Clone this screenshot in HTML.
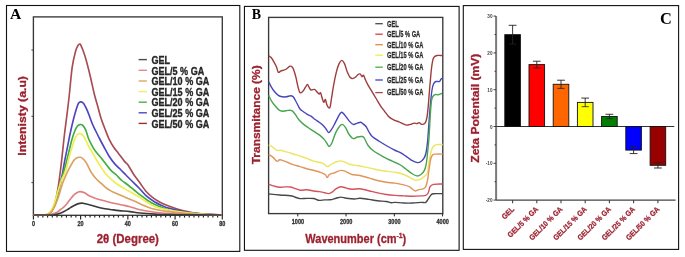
<!DOCTYPE html>
<html><head><meta charset="utf-8"><title>Figure</title>
<style>
html,body{margin:0;padding:0;background:#fff;width:685px;height:257px;overflow:hidden;font-family:"Liberation Sans",sans-serif;}
</style></head><body>
<svg xmlns="http://www.w3.org/2000/svg" width="685" height="257" viewBox="0 0 685 257" style="display:block;filter:blur(0.4px)">
<rect x="0" y="0" width="685" height="257" fill="#ffffff"/>
<rect x="6.50" y="5.50" width="233.30" height="245.90" fill="none" stroke="#111" stroke-width="1.10"/>
<rect x="244.45" y="6.40" width="214.65" height="243.90" fill="none" stroke="#111" stroke-width="1.10"/>
<rect x="463.30" y="5.60" width="215.30" height="243.80" fill="none" stroke="#111" stroke-width="1.10"/>
<text x="9.9" y="19.4" font-family='"Liberation Serif", serif' font-weight="bold" font-size="15.6" fill="#000">A</text>
<text x="251.7" y="19.3" textLength="9.3" lengthAdjust="spacingAndGlyphs" font-family='"Liberation Serif", serif' font-weight="bold" font-size="15.5" fill="#000">B</text>
<text x="659.9" y="23.7" font-family='"Liberation Serif", serif' font-weight="bold" font-size="16.4" fill="#000">C</text>
<rect x="33.40" y="16.90" width="188.90" height="198.40" fill="none" stroke="#383838" stroke-width="1.35"/>
<line x1="31.40" y1="50.00" x2="33.40" y2="50.00" stroke="#333" stroke-width="0.9"/>
<line x1="31.40" y1="116.30" x2="33.40" y2="116.30" stroke="#333" stroke-width="0.9"/>
<line x1="31.40" y1="182.60" x2="33.40" y2="182.60" stroke="#333" stroke-width="0.9"/>
<line x1="33.40" y1="215.30" x2="33.40" y2="219.60" stroke="#222" stroke-width="1.15"/>
<line x1="38.12" y1="215.30" x2="38.12" y2="217.60" stroke="#222" stroke-width="1.15"/>
<line x1="42.84" y1="215.30" x2="42.84" y2="217.60" stroke="#222" stroke-width="1.15"/>
<line x1="47.57" y1="215.30" x2="47.57" y2="217.60" stroke="#222" stroke-width="1.15"/>
<line x1="52.29" y1="215.30" x2="52.29" y2="217.60" stroke="#222" stroke-width="1.15"/>
<line x1="57.01" y1="215.30" x2="57.01" y2="217.60" stroke="#222" stroke-width="1.15"/>
<line x1="61.73" y1="215.30" x2="61.73" y2="217.60" stroke="#222" stroke-width="1.15"/>
<line x1="66.46" y1="215.30" x2="66.46" y2="217.60" stroke="#222" stroke-width="1.15"/>
<line x1="71.18" y1="215.30" x2="71.18" y2="217.60" stroke="#222" stroke-width="1.15"/>
<line x1="75.90" y1="215.30" x2="75.90" y2="217.60" stroke="#222" stroke-width="1.15"/>
<line x1="80.62" y1="215.30" x2="80.62" y2="219.60" stroke="#222" stroke-width="1.15"/>
<line x1="85.35" y1="215.30" x2="85.35" y2="217.60" stroke="#222" stroke-width="1.15"/>
<line x1="90.07" y1="215.30" x2="90.07" y2="217.60" stroke="#222" stroke-width="1.15"/>
<line x1="94.79" y1="215.30" x2="94.79" y2="217.60" stroke="#222" stroke-width="1.15"/>
<line x1="99.51" y1="215.30" x2="99.51" y2="217.60" stroke="#222" stroke-width="1.15"/>
<line x1="104.24" y1="215.30" x2="104.24" y2="217.60" stroke="#222" stroke-width="1.15"/>
<line x1="108.96" y1="215.30" x2="108.96" y2="217.60" stroke="#222" stroke-width="1.15"/>
<line x1="113.68" y1="215.30" x2="113.68" y2="217.60" stroke="#222" stroke-width="1.15"/>
<line x1="118.41" y1="215.30" x2="118.41" y2="217.60" stroke="#222" stroke-width="1.15"/>
<line x1="123.13" y1="215.30" x2="123.13" y2="217.60" stroke="#222" stroke-width="1.15"/>
<line x1="127.85" y1="215.30" x2="127.85" y2="219.60" stroke="#222" stroke-width="1.15"/>
<line x1="132.57" y1="215.30" x2="132.57" y2="217.60" stroke="#222" stroke-width="1.15"/>
<line x1="137.30" y1="215.30" x2="137.30" y2="217.60" stroke="#222" stroke-width="1.15"/>
<line x1="142.02" y1="215.30" x2="142.02" y2="217.60" stroke="#222" stroke-width="1.15"/>
<line x1="146.74" y1="215.30" x2="146.74" y2="217.60" stroke="#222" stroke-width="1.15"/>
<line x1="151.46" y1="215.30" x2="151.46" y2="217.60" stroke="#222" stroke-width="1.15"/>
<line x1="156.19" y1="215.30" x2="156.19" y2="217.60" stroke="#222" stroke-width="1.15"/>
<line x1="160.91" y1="215.30" x2="160.91" y2="217.60" stroke="#222" stroke-width="1.15"/>
<line x1="165.63" y1="215.30" x2="165.63" y2="217.60" stroke="#222" stroke-width="1.15"/>
<line x1="170.35" y1="215.30" x2="170.35" y2="217.60" stroke="#222" stroke-width="1.15"/>
<line x1="175.08" y1="215.30" x2="175.08" y2="219.60" stroke="#222" stroke-width="1.15"/>
<line x1="179.80" y1="215.30" x2="179.80" y2="217.60" stroke="#222" stroke-width="1.15"/>
<line x1="184.52" y1="215.30" x2="184.52" y2="217.60" stroke="#222" stroke-width="1.15"/>
<line x1="189.24" y1="215.30" x2="189.24" y2="217.60" stroke="#222" stroke-width="1.15"/>
<line x1="193.97" y1="215.30" x2="193.97" y2="217.60" stroke="#222" stroke-width="1.15"/>
<line x1="198.69" y1="215.30" x2="198.69" y2="217.60" stroke="#222" stroke-width="1.15"/>
<line x1="203.41" y1="215.30" x2="203.41" y2="217.60" stroke="#222" stroke-width="1.15"/>
<line x1="208.13" y1="215.30" x2="208.13" y2="217.60" stroke="#222" stroke-width="1.15"/>
<line x1="212.85" y1="215.30" x2="212.85" y2="217.60" stroke="#222" stroke-width="1.15"/>
<line x1="217.58" y1="215.30" x2="217.58" y2="217.60" stroke="#222" stroke-width="1.15"/>
<line x1="222.30" y1="215.30" x2="222.30" y2="219.60" stroke="#222" stroke-width="1.15"/>
<text transform="translate(33.40,226.20) scale(0.8300,1)" x="0" y="0" text-anchor="middle" font-family='"Liberation Sans", sans-serif' font-weight="bold" font-size="6.60" fill="#333" stroke="#333" stroke-width="0.3">0</text>
<text transform="translate(80.62,226.20) scale(0.8300,1)" x="0" y="0" text-anchor="middle" font-family='"Liberation Sans", sans-serif' font-weight="bold" font-size="6.60" fill="#333" stroke="#333" stroke-width="0.3">20</text>
<text transform="translate(127.85,226.20) scale(0.8300,1)" x="0" y="0" text-anchor="middle" font-family='"Liberation Sans", sans-serif' font-weight="bold" font-size="6.60" fill="#333" stroke="#333" stroke-width="0.3">40</text>
<text transform="translate(175.08,226.20) scale(0.8300,1)" x="0" y="0" text-anchor="middle" font-family='"Liberation Sans", sans-serif' font-weight="bold" font-size="6.60" fill="#333" stroke="#333" stroke-width="0.3">60</text>
<text transform="translate(222.30,226.20) scale(0.8300,1)" x="0" y="0" text-anchor="middle" font-family='"Liberation Sans", sans-serif' font-weight="bold" font-size="6.60" fill="#333" stroke="#333" stroke-width="0.3">80</text>
<path d="M33.30,215.00 C35.08,215.00 41.55,215.13 44.00,215.00 C46.45,214.87 46.87,214.65 48.00,214.20 C49.13,213.75 49.75,213.78 50.80,212.30 C51.85,210.82 53.13,209.10 54.30,205.30 C55.47,201.50 56.68,196.05 57.80,189.50 C58.92,182.95 59.90,175.08 61.00,166.00 C62.10,156.92 63.38,143.72 64.40,135.00 C65.42,126.28 66.28,120.37 67.10,113.70 C67.92,107.03 68.45,102.75 69.30,95.00 C70.15,87.25 71.17,74.45 72.20,67.20 C73.23,59.95 74.60,55.00 75.50,51.50 C76.40,48.00 76.98,47.40 77.60,46.20 C78.22,45.00 78.67,44.47 79.20,44.30 C79.73,44.13 79.87,43.32 80.80,45.20 C81.73,47.08 83.33,50.88 84.80,55.60 C86.27,60.32 88.02,67.10 89.60,73.50 C91.18,79.90 92.98,88.67 94.30,94.00 C95.62,99.33 96.38,101.45 97.50,105.50 C98.62,109.55 99.83,114.60 101.00,118.30 C102.17,122.00 103.13,124.18 104.50,127.70 C105.87,131.22 107.63,136.10 109.20,139.40 C110.77,142.70 112.35,145.17 113.90,147.50 C115.45,149.83 116.73,151.08 118.50,153.40 C120.27,155.72 123.03,159.62 124.50,161.40 C125.97,163.18 126.38,162.97 127.30,164.10 C128.22,165.23 128.87,166.38 130.00,168.20 C131.13,170.02 132.52,172.65 134.10,175.00 C135.68,177.35 137.53,179.60 139.50,182.30 C141.47,185.00 143.73,188.70 145.90,191.20 C148.07,193.70 150.15,195.47 152.50,197.30 C154.85,199.13 157.42,200.78 160.00,202.20 C162.58,203.62 164.38,204.43 168.00,205.80 C171.62,207.17 177.15,209.17 181.70,210.40 C186.25,211.63 190.75,212.55 195.30,213.20 C199.85,213.85 204.63,214.00 209.00,214.30 C213.37,214.60 219.42,214.88 221.50,215.00" fill="none" stroke="#a84c54" stroke-width="1.65" stroke-linejoin="round"/>
<path d="M33.30,215.00 C35.25,215.00 42.47,215.17 45.00,215.00 C47.53,214.83 47.33,214.75 48.50,214.00 C49.67,213.25 50.83,212.50 52.00,210.50 C53.17,208.50 54.37,205.42 55.50,202.00 C56.63,198.58 57.68,194.50 58.80,190.00 C59.92,185.50 61.25,179.68 62.20,175.00 C63.15,170.32 63.60,166.67 64.50,161.90 C65.40,157.13 66.57,151.55 67.60,146.40 C68.63,141.25 69.67,135.73 70.70,131.00 C71.73,126.27 72.83,121.77 73.80,118.00 C74.77,114.23 75.72,110.85 76.50,108.40 C77.28,105.95 77.78,104.38 78.50,103.30 C79.22,102.22 80.05,101.98 80.80,101.90 C81.55,101.82 82.43,102.40 83.00,102.80 C83.57,103.20 83.55,103.17 84.20,104.30 C84.85,105.43 86.00,107.57 86.90,109.60 C87.80,111.63 88.65,114.02 89.60,116.50 C90.55,118.98 91.53,122.00 92.60,124.50 C93.67,127.00 94.77,129.00 96.00,131.50 C97.23,134.00 98.67,136.92 100.00,139.50 C101.33,142.08 102.40,144.08 104.00,147.00 C105.60,149.92 107.77,154.15 109.60,157.00 C111.43,159.85 113.18,162.02 115.00,164.10 C116.82,166.18 118.68,167.68 120.50,169.50 C122.32,171.32 124.08,173.17 125.90,175.00 C127.72,176.83 129.22,178.33 131.40,180.50 C133.58,182.67 136.57,185.48 139.00,188.00 C141.43,190.52 143.37,193.27 146.00,195.60 C148.63,197.93 152.13,200.33 154.80,202.00 C157.47,203.67 159.53,204.53 162.00,205.60 C164.47,206.67 165.42,207.27 169.60,208.40 C173.78,209.53 180.53,211.42 187.10,212.40 C193.67,213.38 203.27,213.87 209.00,214.30 C214.73,214.73 219.42,214.88 221.50,215.00" fill="none" stroke="#4c46c0" stroke-width="1.65" stroke-linejoin="round"/>
<path d="M33.30,215.00 C35.25,215.00 42.47,215.17 45.00,215.00 C47.53,214.83 47.33,214.75 48.50,214.00 C49.67,213.25 50.83,212.50 52.00,210.50 C53.17,208.50 54.38,205.42 55.50,202.00 C56.62,198.58 57.62,194.17 58.70,190.00 C59.78,185.83 60.85,181.17 62.00,177.00 C63.15,172.83 64.48,169.07 65.60,165.00 C66.72,160.93 67.67,156.75 68.70,152.60 C69.73,148.45 70.77,143.73 71.80,140.10 C72.83,136.47 73.95,133.15 74.90,130.80 C75.85,128.45 76.62,127.05 77.50,126.00 C78.38,124.95 79.32,124.62 80.20,124.50 C81.08,124.38 81.85,124.33 82.80,125.30 C83.75,126.27 84.95,128.10 85.90,130.30 C86.85,132.50 87.48,135.95 88.50,138.50 C89.52,141.05 90.83,143.47 92.00,145.60 C93.17,147.73 94.03,149.32 95.50,151.30 C96.97,153.28 99.17,155.52 100.80,157.50 C102.43,159.48 103.62,161.05 105.30,163.20 C106.98,165.35 109.05,168.43 110.90,170.40 C112.75,172.37 114.58,173.32 116.40,175.00 C118.22,176.68 119.98,178.92 121.80,180.50 C123.62,182.08 125.25,182.92 127.30,184.50 C129.35,186.08 131.90,188.22 134.10,190.00 C136.30,191.78 138.28,193.50 140.50,195.20 C142.72,196.90 145.02,198.63 147.40,200.20 C149.78,201.77 151.10,202.93 154.80,204.60 C158.50,206.27 165.12,208.97 169.60,210.20 C174.08,211.43 175.80,211.33 181.70,212.00 C187.60,212.67 198.37,213.70 205.00,214.20 C211.63,214.70 218.75,214.87 221.50,215.00" fill="none" stroke="#3fae3f" stroke-width="1.65" stroke-linejoin="round"/>
<path d="M33.30,215.00 C35.08,215.00 41.63,215.17 44.00,215.00 C46.37,214.83 46.33,214.67 47.50,214.00 C48.67,213.33 49.83,212.83 51.00,211.00 C52.17,209.17 53.33,206.33 54.50,203.00 C55.67,199.67 56.83,194.83 58.00,191.00 C59.17,187.17 60.23,183.28 61.50,180.00 C62.77,176.72 64.40,174.83 65.60,171.30 C66.80,167.77 67.67,162.70 68.70,158.80 C69.73,154.90 70.77,151.27 71.80,147.90 C72.83,144.53 73.95,140.83 74.90,138.60 C75.85,136.37 76.62,135.33 77.50,134.50 C78.38,133.67 79.20,133.37 80.20,133.60 C81.20,133.83 82.57,134.75 83.50,135.90 C84.43,137.05 84.83,138.57 85.80,140.50 C86.77,142.43 88.13,145.35 89.30,147.50 C90.47,149.65 91.68,151.48 92.80,153.40 C93.92,155.32 94.80,156.98 96.00,159.00 C97.20,161.02 98.42,163.07 100.00,165.50 C101.58,167.93 103.68,171.33 105.50,173.60 C107.32,175.87 108.87,177.28 110.90,179.10 C112.93,180.92 115.43,182.92 117.70,184.50 C119.97,186.08 122.00,187.13 124.50,188.60 C127.00,190.07 129.97,191.73 132.70,193.30 C135.43,194.87 138.52,196.47 140.90,198.00 C143.28,199.53 144.68,201.10 147.00,202.50 C149.32,203.90 152.20,205.35 154.80,206.40 C157.40,207.45 157.57,207.77 162.60,208.80 C167.63,209.83 177.93,211.68 185.00,212.60 C192.07,213.52 198.92,213.90 205.00,214.30 C211.08,214.70 218.75,214.88 221.50,215.00" fill="none" stroke="#eeee50" stroke-width="1.65" stroke-linejoin="round"/>
<path d="M33.30,215.00 C35.25,215.00 42.55,215.08 45.00,215.00 C47.45,214.92 46.95,215.00 48.00,214.50 C49.05,214.00 50.12,213.48 51.30,212.00 C52.48,210.52 53.83,208.35 55.10,205.60 C56.37,202.85 57.63,199.28 58.90,195.50 C60.17,191.72 61.43,186.48 62.70,182.90 C63.97,179.32 65.23,176.75 66.50,174.00 C67.77,171.25 69.03,168.72 70.30,166.40 C71.57,164.08 72.83,161.58 74.10,160.10 C75.37,158.62 76.88,157.97 77.90,157.50 C78.92,157.03 79.43,157.17 80.20,157.30 C80.97,157.43 81.57,157.53 82.50,158.30 C83.43,159.07 84.88,160.62 85.80,161.90 C86.72,163.18 87.13,164.32 88.00,166.00 C88.87,167.68 89.68,169.92 91.00,172.00 C92.32,174.08 94.40,176.78 95.90,178.50 C97.40,180.22 98.40,180.83 100.00,182.30 C101.60,183.77 103.68,185.87 105.50,187.30 C107.32,188.73 109.55,190.08 110.90,190.90 C112.25,191.72 111.78,191.38 113.60,192.20 C115.42,193.02 119.40,194.77 121.80,195.80 C124.20,196.83 125.73,197.43 128.00,198.40 C130.27,199.37 133.40,200.70 135.40,201.60 C137.40,202.50 138.07,202.93 140.00,203.80 C141.93,204.67 144.53,205.88 147.00,206.80 C149.47,207.72 151.30,208.50 154.80,209.30 C158.30,210.10 162.13,210.85 168.00,211.60 C173.87,212.35 181.08,213.23 190.00,213.80 C198.92,214.37 216.25,214.80 221.50,215.00" fill="none" stroke="#dca060" stroke-width="1.65" stroke-linejoin="round"/>
<path d="M33.30,215.00 C35.58,215.00 43.88,215.17 47.00,215.00 C50.12,214.83 50.23,214.50 52.00,214.00 C53.77,213.50 56.17,212.75 57.60,212.00 C59.03,211.25 59.53,210.35 60.60,209.50 C61.67,208.65 62.93,207.90 64.00,206.90 C65.07,205.90 66.00,204.72 67.00,203.50 C68.00,202.28 68.80,201.07 70.00,199.60 C71.20,198.13 72.80,195.98 74.20,194.70 C75.60,193.42 77.12,192.37 78.40,191.90 C79.68,191.43 80.73,191.67 81.90,191.90 C83.07,192.13 84.12,192.60 85.40,193.30 C86.68,194.00 87.97,195.28 89.60,196.10 C91.23,196.92 93.10,197.50 95.20,198.20 C97.30,198.90 99.85,199.63 102.20,200.30 C104.55,200.97 106.95,201.62 109.30,202.20 C111.65,202.78 113.97,203.30 116.30,203.80 C118.63,204.30 121.02,204.70 123.30,205.20 C125.58,205.70 127.22,206.03 130.00,206.80 C132.78,207.57 135.87,208.88 140.00,209.80 C144.13,210.72 149.80,211.65 154.80,212.30 C159.80,212.95 164.13,213.33 170.00,213.70 C175.87,214.07 181.42,214.28 190.00,214.50 C198.58,214.72 216.25,214.92 221.50,215.00" fill="none" stroke="#e07f80" stroke-width="1.65" stroke-linejoin="round"/>
<path d="M33.30,215.00 C36.08,215.00 46.38,215.07 50.00,215.00 C53.62,214.93 53.30,214.90 55.00,214.60 C56.70,214.30 58.70,213.70 60.20,213.20 C61.70,212.70 62.73,212.23 64.00,211.60 C65.27,210.97 66.72,210.07 67.80,209.40 C68.88,208.73 69.43,208.27 70.50,207.60 C71.57,206.93 72.88,206.07 74.20,205.40 C75.52,204.73 77.12,203.98 78.40,203.60 C79.68,203.22 80.73,203.07 81.90,203.10 C83.07,203.13 83.88,203.45 85.40,203.80 C86.92,204.15 88.90,204.62 91.00,205.20 C93.10,205.78 95.67,206.72 98.00,207.30 C100.33,207.88 102.67,208.30 105.00,208.70 C107.33,209.10 109.67,209.38 112.00,209.70 C114.33,210.02 116.00,210.28 119.00,210.60 C122.00,210.92 126.50,211.20 130.00,211.60 C133.50,212.00 135.83,212.58 140.00,213.00 C144.17,213.42 150.00,213.83 155.00,214.10 C160.00,214.37 158.92,214.45 170.00,214.60 C181.08,214.75 212.92,214.93 221.50,215.00" fill="none" stroke="#3a3a3a" stroke-width="1.65" stroke-linejoin="round"/>
<line x1="138.6" y1="59.60" x2="146.9" y2="59.60" stroke="#4a4a4a" stroke-width="1.4"/>
<text transform="translate(151.50,63.80) scale(0.8153,1)" x="0" y="0" text-anchor="start" font-family='"Liberation Sans", sans-serif' font-weight="bold" font-size="11.10" fill="#262626" stroke="#262626" stroke-width="0.35">GEL</text>
<line x1="138.6" y1="70.30" x2="146.9" y2="70.30" stroke="#e48a8c" stroke-width="1.4"/>
<text transform="translate(151.50,74.50) scale(0.8153,1)" x="0" y="0" text-anchor="start" font-family='"Liberation Sans", sans-serif' font-weight="bold" font-size="11.10" fill="#262626" stroke="#262626" stroke-width="0.35">GEL/5 % GA</text>
<line x1="138.6" y1="81.00" x2="146.9" y2="81.00" stroke="#d9a866" stroke-width="1.4"/>
<text transform="translate(151.50,85.20) scale(0.8153,1)" x="0" y="0" text-anchor="start" font-family='"Liberation Sans", sans-serif' font-weight="bold" font-size="11.10" fill="#262626" stroke="#262626" stroke-width="0.35">GEL/10 % GA</text>
<line x1="138.6" y1="91.60" x2="146.9" y2="91.60" stroke="#f2f060" stroke-width="1.4"/>
<text transform="translate(151.50,95.80) scale(0.8153,1)" x="0" y="0" text-anchor="start" font-family='"Liberation Sans", sans-serif' font-weight="bold" font-size="11.10" fill="#262626" stroke="#262626" stroke-width="0.35">GEL/15 % GA</text>
<line x1="138.6" y1="102.20" x2="146.9" y2="102.20" stroke="#4cb04c" stroke-width="1.4"/>
<text transform="translate(151.50,106.40) scale(0.8153,1)" x="0" y="0" text-anchor="start" font-family='"Liberation Sans", sans-serif' font-weight="bold" font-size="11.10" fill="#262626" stroke="#262626" stroke-width="0.35">GEL/20 % GA</text>
<line x1="138.6" y1="112.80" x2="146.9" y2="112.80" stroke="#4a4ac2" stroke-width="1.4"/>
<text transform="translate(151.50,117.00) scale(0.8153,1)" x="0" y="0" text-anchor="start" font-family='"Liberation Sans", sans-serif' font-weight="bold" font-size="11.10" fill="#262626" stroke="#262626" stroke-width="0.35">GEL/25 % GA</text>
<line x1="138.6" y1="123.40" x2="146.9" y2="123.40" stroke="#a02c30" stroke-width="1.4"/>
<text transform="translate(151.50,127.60) scale(0.8153,1)" x="0" y="0" text-anchor="start" font-family='"Liberation Sans", sans-serif' font-weight="bold" font-size="11.10" fill="#262626" stroke="#262626" stroke-width="0.35">GEL/50 % GA</text>
<text transform="translate(127.85,242.90) scale(0.9387,1)" x="0" y="0" text-anchor="middle" font-family='"Liberation Sans", sans-serif' font-weight="bold" font-size="12.20" fill="#9c2230" stroke="#9c2230" stroke-width="0.3">2θ (Degree)</text>
<text transform="translate(26.4,115.85) rotate(-90)" x="0" y="0" text-anchor="middle" font-family='"Liberation Sans", sans-serif' font-weight="bold" font-size="10.9" fill="#9c2230" stroke="#9c2230" stroke-width="0.3" textLength="79.6" lengthAdjust="spacingAndGlyphs">Intenisty (a.u)</text>
<rect x="268.60" y="17.40" width="174.20" height="196.20" fill="none" stroke="#383838" stroke-width="1.35"/>
<line x1="297.80" y1="213.60" x2="297.80" y2="216.40" stroke="#222" stroke-width="1"/>
<text transform="translate(297.90,223.90) scale(0.8400,1)" x="0" y="0" text-anchor="middle" font-family='"Liberation Sans", sans-serif' font-weight="bold" font-size="6.60" fill="#333" stroke="#333" stroke-width="0.3">1000</text>
<line x1="346.06" y1="213.60" x2="346.06" y2="216.40" stroke="#222" stroke-width="1"/>
<text transform="translate(346.16,223.90) scale(0.8400,1)" x="0" y="0" text-anchor="middle" font-family='"Liberation Sans", sans-serif' font-weight="bold" font-size="6.60" fill="#333" stroke="#333" stroke-width="0.3">2000</text>
<line x1="394.32" y1="213.60" x2="394.32" y2="216.40" stroke="#222" stroke-width="1"/>
<text transform="translate(394.42,223.90) scale(0.8400,1)" x="0" y="0" text-anchor="middle" font-family='"Liberation Sans", sans-serif' font-weight="bold" font-size="6.60" fill="#333" stroke="#333" stroke-width="0.3">3000</text>
<line x1="442.58" y1="213.60" x2="442.58" y2="216.40" stroke="#222" stroke-width="1"/>
<text transform="translate(442.68,223.90) scale(0.8400,1)" x="0" y="0" text-anchor="middle" font-family='"Liberation Sans", sans-serif' font-weight="bold" font-size="6.60" fill="#333" stroke="#333" stroke-width="0.3">4000</text>
<path d="M268.70,55.90 C269.07,56.13 270.08,56.40 270.90,57.30 C271.72,58.20 272.68,59.72 273.60,61.30 C274.52,62.88 275.62,64.98 276.40,66.80 C277.18,68.62 277.53,71.52 278.30,72.20 C279.07,72.88 280.10,71.25 281.00,70.90 C281.90,70.55 282.80,70.42 283.70,70.10 C284.60,69.78 285.35,69.65 286.40,69.00 C287.45,68.35 289.00,66.48 290.00,66.20 C291.00,65.92 291.72,66.52 292.40,67.30 C293.08,68.08 293.50,69.17 294.10,70.90 C294.70,72.63 295.33,74.98 296.00,77.70 C296.67,80.42 297.43,84.70 298.10,87.20 C298.77,89.70 299.22,92.02 300.00,92.70 C300.78,93.38 301.88,92.22 302.80,91.30 C303.72,90.38 304.73,88.33 305.50,87.20 C306.27,86.07 306.82,84.50 307.40,84.50 C307.98,84.50 308.40,86.28 309.00,87.20 C309.60,88.12 310.08,89.63 311.00,90.00 C311.92,90.37 313.60,89.18 314.50,89.40 C315.40,89.62 315.63,90.53 316.40,91.30 C317.17,92.07 318.42,93.77 319.10,94.00 C319.78,94.23 320.05,92.23 320.50,92.70 C320.95,93.17 321.27,95.22 321.80,96.80 C322.33,98.38 323.10,101.75 323.70,102.20 C324.30,102.65 324.93,99.27 325.40,99.50 C325.87,99.73 326.05,102.33 326.50,103.60 C326.95,104.87 327.52,106.50 328.10,107.10 C328.68,107.70 329.45,108.55 330.00,107.20 C330.55,105.85 330.80,102.63 331.40,99.00 C332.00,95.37 332.77,89.93 333.60,85.40 C334.43,80.87 335.48,75.43 336.40,71.80 C337.32,68.17 338.20,65.50 339.10,63.60 C340.00,61.70 340.90,60.40 341.80,60.40 C342.70,60.40 343.60,61.70 344.50,63.60 C345.40,65.50 346.28,69.53 347.20,71.80 C348.12,74.07 349.08,76.07 350.00,77.20 C350.92,78.33 351.80,78.60 352.70,78.60 C353.60,78.60 354.50,77.88 355.40,77.20 C356.30,76.52 357.28,75.03 358.10,74.50 C358.92,73.97 359.65,73.63 360.30,74.00 C360.95,74.37 361.45,76.48 362.00,76.70 C362.55,76.92 363.02,74.75 363.60,75.30 C364.18,75.85 364.73,78.32 365.50,80.00 C366.27,81.68 367.07,83.37 368.20,85.40 C369.33,87.43 370.93,89.93 372.30,92.20 C373.67,94.47 375.03,96.73 376.40,99.00 C377.77,101.27 379.13,103.75 380.50,105.80 C381.87,107.85 383.33,109.62 384.60,111.30 C385.87,112.98 386.97,114.68 388.10,115.90 C389.23,117.12 390.22,117.82 391.40,118.60 C392.58,119.38 393.93,120.07 395.20,120.60 C396.47,121.13 397.73,121.30 399.00,121.80 C400.27,122.30 401.53,123.05 402.80,123.60 C404.07,124.15 405.35,124.97 406.60,125.10 C407.85,125.23 409.05,124.73 410.30,124.40 C411.55,124.07 413.03,123.23 414.10,123.10 C415.17,122.97 415.85,123.68 416.70,123.60 C417.55,123.52 418.37,122.47 419.20,122.60 C420.03,122.73 420.73,124.32 421.70,124.40 C422.67,124.48 424.15,124.15 425.00,123.10 C425.85,122.05 426.28,120.63 426.80,118.10 C427.32,115.57 427.68,112.12 428.10,107.90 C428.52,103.68 428.88,97.85 429.30,92.80 C429.72,87.75 430.18,82.07 430.60,77.60 C431.02,73.13 431.32,69.27 431.80,66.00 C432.28,62.73 432.65,59.75 433.50,58.00 C434.35,56.25 435.42,55.92 436.90,55.50 C438.38,55.08 441.48,55.50 442.40,55.50" fill="none" stroke="#9e3c3c" stroke-width="1.4" stroke-linejoin="round"/>
<path d="M268.70,81.80 C269.15,82.70 270.48,85.62 271.40,87.20 C272.32,88.78 273.05,89.93 274.20,91.30 C275.35,92.67 276.95,94.48 278.30,95.40 C279.65,96.32 280.95,96.57 282.30,96.80 C283.65,97.03 285.03,96.98 286.40,96.80 C287.77,96.62 289.37,95.70 290.50,95.70 C291.63,95.70 292.28,95.83 293.20,96.80 C294.12,97.77 295.08,99.83 296.00,101.50 C296.92,103.17 297.95,105.47 298.70,106.80 C299.45,108.13 299.82,108.75 300.50,109.50 C301.18,110.25 301.73,110.53 302.80,111.30 C303.87,112.07 305.53,113.28 306.90,114.10 C308.27,114.92 309.63,115.30 311.00,116.20 C312.37,117.10 313.73,118.50 315.10,119.50 C316.47,120.50 317.85,121.20 319.20,122.20 C320.55,123.20 322.07,124.37 323.20,125.50 C324.33,126.63 325.08,127.82 326.00,129.00 C326.92,130.18 327.88,132.37 328.70,132.60 C329.52,132.83 330.00,131.67 330.90,130.40 C331.80,129.13 332.88,127.27 334.10,125.00 C335.32,122.73 336.97,118.93 338.20,116.80 C339.43,114.67 340.37,112.43 341.50,112.20 C342.63,111.97 343.73,113.95 345.00,115.40 C346.27,116.85 347.73,119.40 349.10,120.90 C350.47,122.40 351.83,124.03 353.20,124.40 C354.57,124.77 356.07,123.47 357.30,123.10 C358.53,122.73 359.70,122.12 360.60,122.20 C361.50,122.28 361.80,122.88 362.70,123.60 C363.60,124.32 364.95,125.10 366.00,126.50 C367.05,127.90 367.97,130.33 369.00,132.00 C370.03,133.67 370.43,134.92 372.20,136.50 C373.97,138.08 377.13,139.92 379.60,141.50 C382.07,143.08 384.37,144.50 387.00,146.00 C389.63,147.50 393.17,149.38 395.40,150.50 C397.63,151.62 398.65,151.75 400.40,152.70 C402.15,153.65 404.08,154.97 405.90,156.20 C407.72,157.43 409.38,159.03 411.30,160.10 C413.22,161.17 415.73,162.42 417.40,162.60 C419.07,162.78 420.17,162.00 421.30,161.20 C422.43,160.40 423.40,159.25 424.20,157.80 C425.00,156.35 425.52,155.40 426.10,152.50 C426.68,149.60 427.22,145.48 427.70,140.40 C428.18,135.32 428.52,128.40 429.00,122.00 C429.48,115.60 430.10,107.33 430.60,102.00 C431.10,96.67 431.52,93.00 432.00,90.00 C432.48,87.00 432.83,85.42 433.50,84.00 C434.17,82.58 435.00,81.92 436.00,81.50 C437.00,81.08 438.67,81.92 439.50,81.50 C440.33,81.08 440.50,79.50 441.00,79.00 C441.50,78.50 442.25,78.58 442.50,78.50" fill="none" stroke="#4646ba" stroke-width="1.4" stroke-linejoin="round"/>
<path d="M268.70,95.40 C269.15,96.30 270.27,98.98 271.40,100.80 C272.53,102.62 274.13,104.70 275.50,106.30 C276.87,107.90 278.23,109.58 279.60,110.40 C280.97,111.22 282.33,111.20 283.70,111.20 C285.07,111.20 286.43,110.50 287.80,110.40 C289.17,110.30 290.77,110.08 291.90,110.60 C293.03,111.12 293.92,112.70 294.60,113.50 C295.28,114.30 295.32,114.40 296.00,115.40 C296.68,116.40 297.57,118.13 298.70,119.50 C299.83,120.87 301.20,122.23 302.80,123.60 C304.40,124.97 306.72,126.57 308.30,127.70 C309.88,128.83 310.95,129.50 312.30,130.40 C313.65,131.30 315.03,132.18 316.40,133.10 C317.77,134.02 319.13,134.77 320.50,135.90 C321.87,137.03 323.47,138.55 324.60,139.90 C325.73,141.25 326.53,142.90 327.30,144.00 C328.07,145.10 328.42,146.72 329.20,146.50 C329.98,146.28 330.95,144.93 332.00,142.70 C333.05,140.47 334.23,135.83 335.50,133.10 C336.77,130.37 338.47,127.75 339.60,126.30 C340.73,124.85 341.30,124.17 342.30,124.40 C343.30,124.63 344.47,126.02 345.60,127.70 C346.73,129.38 347.83,132.68 349.10,134.50 C350.37,136.32 351.83,138.18 353.20,138.60 C354.57,139.02 355.93,137.35 357.30,137.00 C358.67,136.65 360.28,136.38 361.40,136.50 C362.52,136.62 362.88,136.20 364.00,137.70 C365.12,139.20 366.50,143.28 368.10,145.50 C369.70,147.72 371.55,149.42 373.60,151.00 C375.65,152.58 377.90,153.58 380.40,155.00 C382.90,156.42 386.10,158.25 388.60,159.50 C391.10,160.75 393.43,161.58 395.40,162.50 C397.37,163.42 398.65,163.92 400.40,165.00 C402.15,166.08 404.08,167.65 405.90,169.00 C407.72,170.35 409.48,171.95 411.30,173.10 C413.12,174.25 415.20,175.67 416.80,175.90 C418.40,176.13 419.63,175.42 420.90,174.50 C422.17,173.58 423.50,172.22 424.40,170.40 C425.30,168.58 425.75,166.78 426.30,163.60 C426.85,160.42 427.25,155.62 427.70,151.30 C428.15,146.98 428.53,144.25 429.00,137.70 C429.47,131.15 430.03,118.45 430.50,112.00 C430.97,105.55 431.15,101.87 431.80,99.00 C432.45,96.13 433.33,95.50 434.40,94.80 C435.47,94.10 436.93,95.05 438.20,94.80 C439.47,94.55 441.37,93.55 442.00,93.30" fill="none" stroke="#48a450" stroke-width="1.4" stroke-linejoin="round"/>
<path d="M268.70,144.80 C269.15,145.03 270.48,145.60 271.40,146.20 C272.32,146.80 273.28,147.72 274.20,148.40 C275.12,149.08 275.77,149.98 276.90,150.30 C278.03,150.62 279.63,150.08 281.00,150.30 C282.37,150.52 283.52,151.15 285.10,151.60 C286.68,152.05 288.68,152.45 290.50,153.00 C292.32,153.55 294.18,154.32 296.00,154.90 C297.82,155.48 299.58,155.92 301.40,156.50 C303.22,157.08 304.85,157.62 306.90,158.40 C308.95,159.18 311.43,160.52 313.70,161.20 C315.97,161.88 318.68,161.97 320.50,162.50 C322.32,163.03 323.47,163.72 324.60,164.40 C325.73,165.08 326.40,166.47 327.30,166.60 C328.20,166.73 328.87,165.83 330.00,165.20 C331.13,164.57 332.85,163.42 334.10,162.80 C335.35,162.18 336.37,161.82 337.50,161.50 C338.63,161.18 339.65,160.78 340.90,160.90 C342.15,161.02 343.42,161.60 345.00,162.20 C346.58,162.80 348.37,163.95 350.40,164.50 C352.43,165.05 354.70,165.07 357.20,165.50 C359.70,165.93 362.67,166.52 365.40,167.10 C368.13,167.68 370.42,168.35 373.60,169.00 C376.78,169.65 380.87,170.45 384.50,171.00 C388.13,171.55 392.18,171.72 395.40,172.30 C398.62,172.88 400.93,173.38 403.80,174.50 C406.67,175.62 410.55,178.05 412.60,179.00 C414.65,179.95 414.65,180.23 416.10,180.20 C417.55,180.17 419.85,179.48 421.30,178.80 C422.75,178.12 423.77,177.13 424.80,176.10 C425.83,175.07 426.80,174.95 427.50,172.60 C428.20,170.25 428.28,165.85 429.00,162.00 C429.72,158.15 430.88,152.27 431.80,149.50 C432.72,146.73 433.37,146.23 434.50,145.40 C435.63,144.57 437.23,144.65 438.60,144.50 C439.97,144.35 442.02,144.50 442.70,144.50" fill="none" stroke="#ece660" stroke-width="1.4" stroke-linejoin="round"/>
<path d="M268.70,154.30 C269.38,154.77 271.43,155.95 272.80,157.10 C274.17,158.25 275.77,160.75 276.90,161.20 C278.03,161.65 278.70,159.95 279.60,159.80 C280.50,159.65 280.93,159.85 282.30,160.30 C283.67,160.75 285.98,161.77 287.80,162.50 C289.62,163.23 291.17,164.02 293.20,164.70 C295.23,165.38 297.72,165.92 300.00,166.60 C302.28,167.28 304.40,168.12 306.90,168.80 C309.40,169.48 312.52,170.02 315.00,170.70 C317.48,171.38 320.07,172.22 321.80,172.90 C323.53,173.58 324.48,174.03 325.40,174.80 C326.32,175.57 326.67,177.50 327.30,177.50 C327.93,177.50 328.42,175.47 329.20,174.80 C329.98,174.13 330.97,173.88 332.00,173.50 C333.03,173.12 333.92,173.02 335.40,172.50 C336.88,171.98 339.08,170.52 340.90,170.40 C342.72,170.28 344.48,171.12 346.30,171.80 C348.12,172.48 349.52,173.88 351.80,174.50 C354.08,175.12 357.17,174.93 360.00,175.50 C362.83,176.07 365.88,177.07 368.80,177.90 C371.72,178.73 374.58,179.77 377.50,180.50 C380.42,181.23 383.38,181.87 386.30,182.30 C389.22,182.73 392.08,182.67 395.00,183.10 C397.92,183.53 401.45,184.32 403.80,184.90 C406.15,185.48 407.63,185.87 409.10,186.60 C410.57,187.33 411.58,188.57 412.60,189.30 C413.62,190.03 414.18,190.95 415.20,191.00 C416.22,191.05 417.38,189.95 418.70,189.60 C420.02,189.25 421.93,189.40 423.10,188.90 C424.27,188.40 424.97,188.00 425.70,186.60 C426.43,185.20 427.00,182.93 427.50,180.50 C428.00,178.07 428.20,175.42 428.70,172.00 C429.20,168.58 429.87,162.83 430.50,160.00 C431.13,157.17 431.58,155.98 432.50,155.00 C433.42,154.02 434.30,154.25 436.00,154.10 C437.70,153.95 441.58,154.10 442.70,154.10" fill="none" stroke="#e0955a" stroke-width="1.4" stroke-linejoin="round"/>
<path d="M268.70,184.20 C269.62,184.52 272.38,185.58 274.20,186.10 C276.02,186.62 277.78,187.17 279.60,187.30 C281.42,187.43 283.28,186.95 285.10,186.90 C286.92,186.85 288.92,186.77 290.50,187.00 C292.08,187.23 293.02,187.77 294.60,188.30 C296.18,188.83 297.95,189.97 300.00,190.20 C302.05,190.43 304.85,189.60 306.90,189.70 C308.95,189.80 310.27,190.48 312.30,190.80 C314.33,191.12 317.05,191.28 319.10,191.60 C321.15,191.92 323.00,192.37 324.60,192.70 C326.20,193.03 327.33,193.78 328.70,193.60 C330.07,193.42 331.58,192.38 332.80,191.60 C334.02,190.82 334.65,189.70 336.00,188.90 C337.35,188.10 339.18,186.93 340.90,186.80 C342.62,186.67 344.48,187.68 346.30,188.10 C348.12,188.52 349.52,189.18 351.80,189.30 C354.08,189.42 357.17,188.57 360.00,188.80 C362.83,189.03 365.88,190.03 368.80,190.70 C371.72,191.37 374.58,192.17 377.50,192.80 C380.42,193.43 383.38,194.07 386.30,194.50 C389.22,194.93 392.08,195.17 395.00,195.40 C397.92,195.63 400.87,195.75 403.80,195.90 C406.73,196.05 409.68,196.30 412.60,196.30 C415.52,196.30 419.12,196.05 421.30,195.90 C423.48,195.75 424.53,195.92 425.70,195.40 C426.87,194.88 427.57,194.27 428.30,192.80 C429.03,191.33 429.22,188.00 430.10,186.60 C430.98,185.20 431.70,184.83 433.60,184.40 C435.50,183.97 440.02,184.07 441.50,184.00 C442.98,183.93 442.33,184.00 442.50,184.00" fill="none" stroke="#d4525c" stroke-width="1.4" stroke-linejoin="round"/>
<path d="M268.70,194.00 C270.52,194.17 275.97,194.72 279.60,195.00 C283.23,195.28 288.00,195.37 290.50,195.70 C293.00,196.03 293.02,196.52 294.60,197.00 C296.18,197.48 297.95,198.37 300.00,198.60 C302.05,198.83 304.62,198.42 306.90,198.40 C309.18,198.38 311.77,198.18 313.70,198.50 C315.63,198.82 316.68,200.07 318.50,200.30 C320.32,200.53 322.68,199.98 324.60,199.90 C326.52,199.82 328.10,200.07 330.00,199.80 C331.90,199.53 334.18,198.75 336.00,198.30 C337.82,197.85 339.18,197.12 340.90,197.10 C342.62,197.08 344.03,197.88 346.30,198.20 C348.57,198.52 352.22,198.98 354.50,199.00 C356.78,199.02 357.62,198.23 360.00,198.30 C362.38,198.37 365.88,199.00 368.80,199.40 C371.72,199.80 374.58,200.35 377.50,200.70 C380.42,201.05 384.10,201.17 386.30,201.50 C388.50,201.83 389.25,202.55 390.70,202.70 C392.15,202.85 392.82,202.35 395.00,202.40 C397.18,202.45 400.87,202.90 403.80,203.00 C406.73,203.10 409.68,203.10 412.60,203.00 C415.52,202.90 419.12,202.50 421.30,202.40 C423.48,202.30 424.53,202.98 425.70,202.40 C426.87,201.82 427.42,200.15 428.30,198.90 C429.18,197.65 430.12,195.77 431.00,194.90 C431.88,194.03 431.68,193.90 433.60,193.70 C435.52,193.50 441.02,193.70 442.50,193.70" fill="none" stroke="#484848" stroke-width="1.4" stroke-linejoin="round"/>
<line x1="375.3" y1="23.70" x2="382.8" y2="23.70" stroke="#4a4a4a" stroke-width="1.3"/>
<text transform="translate(387.00,26.50) scale(0.6867,1)" x="0" y="0" text-anchor="start" font-family='"Liberation Sans", sans-serif' font-weight="bold" font-size="8.30" fill="#2a2a2a" stroke="#2a2a2a" stroke-width="0.25">GEL</text>
<line x1="375.3" y1="34.20" x2="382.8" y2="34.20" stroke="#d9404a" stroke-width="1.3"/>
<text transform="translate(387.00,37.00) scale(0.6867,1)" x="0" y="0" text-anchor="start" font-family='"Liberation Sans", sans-serif' font-weight="bold" font-size="8.30" fill="#2a2a2a" stroke="#2a2a2a" stroke-width="0.25">GEL/5 % GA</text>
<line x1="375.3" y1="44.70" x2="382.8" y2="44.70" stroke="#e08a40" stroke-width="1.3"/>
<text transform="translate(387.00,47.50) scale(0.6867,1)" x="0" y="0" text-anchor="start" font-family='"Liberation Sans", sans-serif' font-weight="bold" font-size="8.30" fill="#2a2a2a" stroke="#2a2a2a" stroke-width="0.25">GEL/10 % GA</text>
<line x1="375.3" y1="55.20" x2="382.8" y2="55.20" stroke="#eeec50" stroke-width="1.3"/>
<text transform="translate(387.00,58.00) scale(0.6867,1)" x="0" y="0" text-anchor="start" font-family='"Liberation Sans", sans-serif' font-weight="bold" font-size="8.30" fill="#2a2a2a" stroke="#2a2a2a" stroke-width="0.25">GEL/15 % GA</text>
<line x1="375.3" y1="67.20" x2="382.8" y2="67.20" stroke="#44b044" stroke-width="1.3"/>
<text transform="translate(387.00,70.00) scale(0.6867,1)" x="0" y="0" text-anchor="start" font-family='"Liberation Sans", sans-serif' font-weight="bold" font-size="8.30" fill="#2a2a2a" stroke="#2a2a2a" stroke-width="0.25">GEL/20 % GA</text>
<line x1="375.3" y1="80.00" x2="382.8" y2="80.00" stroke="#4040c8" stroke-width="1.3"/>
<text transform="translate(387.00,82.80) scale(0.6867,1)" x="0" y="0" text-anchor="start" font-family='"Liberation Sans", sans-serif' font-weight="bold" font-size="8.30" fill="#2a2a2a" stroke="#2a2a2a" stroke-width="0.25">GEL/25 % GA</text>
<line x1="375.3" y1="92.60" x2="382.8" y2="92.60" stroke="#a84848" stroke-width="1.3"/>
<text transform="translate(387.00,95.40) scale(0.6867,1)" x="0" y="0" text-anchor="start" font-family='"Liberation Sans", sans-serif' font-weight="bold" font-size="8.30" fill="#2a2a2a" stroke="#2a2a2a" stroke-width="0.25">GEL/50 % GA</text>
<text transform="translate(305.3,242.7) scale(0.9013,1)" x="0" y="0" font-family='"Liberation Sans", sans-serif' font-weight="bold" font-size="12.2" fill="#9c2230" stroke="#9c2230" stroke-width="0.3">Wavenumber (cm<tspan font-size="7.6" dy="-4.6">-1</tspan><tspan dy="4.6">)</tspan></text>
<text transform="translate(259.8,114.8) rotate(-90)" x="0" y="0" text-anchor="middle" font-family='"Liberation Sans", sans-serif' font-weight="bold" font-size="11" fill="#9c2230" stroke="#9c2230" stroke-width="0.3" textLength="99" lengthAdjust="spacingAndGlyphs">Transmitance (%)</text>
<line x1="496.10" y1="16.10" x2="496.10" y2="200.10" stroke="#7a7a7a" stroke-width="2.0"/>
<line x1="493.50" y1="200.10" x2="496.10" y2="200.10" stroke="#333" stroke-width="0.9"/>
<line x1="494.50" y1="181.70" x2="496.10" y2="181.70" stroke="#333" stroke-width="0.9"/>
<line x1="493.50" y1="163.30" x2="496.10" y2="163.30" stroke="#333" stroke-width="0.9"/>
<line x1="494.50" y1="144.90" x2="496.10" y2="144.90" stroke="#333" stroke-width="0.9"/>
<line x1="493.50" y1="126.50" x2="496.10" y2="126.50" stroke="#333" stroke-width="0.9"/>
<line x1="494.50" y1="108.10" x2="496.10" y2="108.10" stroke="#333" stroke-width="0.9"/>
<line x1="493.50" y1="89.70" x2="496.10" y2="89.70" stroke="#333" stroke-width="0.9"/>
<line x1="494.50" y1="71.30" x2="496.10" y2="71.30" stroke="#333" stroke-width="0.9"/>
<line x1="493.50" y1="52.90" x2="496.10" y2="52.90" stroke="#333" stroke-width="0.9"/>
<line x1="494.50" y1="34.50" x2="496.10" y2="34.50" stroke="#333" stroke-width="0.9"/>
<line x1="493.50" y1="16.10" x2="496.10" y2="16.10" stroke="#333" stroke-width="0.9"/>
<text transform="translate(492.50,18.10) scale(0.8600,1)" x="0" y="0" text-anchor="end" font-family='"Liberation Sans", sans-serif' font-weight="bold" font-size="5.40" fill="#444">30</text>
<text transform="translate(492.50,54.90) scale(0.8600,1)" x="0" y="0" text-anchor="end" font-family='"Liberation Sans", sans-serif' font-weight="bold" font-size="5.40" fill="#444">20</text>
<text transform="translate(492.50,91.70) scale(0.8600,1)" x="0" y="0" text-anchor="end" font-family='"Liberation Sans", sans-serif' font-weight="bold" font-size="5.40" fill="#444">10</text>
<text transform="translate(492.50,128.50) scale(0.8600,1)" x="0" y="0" text-anchor="end" font-family='"Liberation Sans", sans-serif' font-weight="bold" font-size="5.40" fill="#444">0</text>
<text transform="translate(492.50,165.30) scale(0.8600,1)" x="0" y="0" text-anchor="end" font-family='"Liberation Sans", sans-serif' font-weight="bold" font-size="5.40" fill="#444">-10</text>
<text transform="translate(492.50,202.10) scale(0.8600,1)" x="0" y="0" text-anchor="end" font-family='"Liberation Sans", sans-serif' font-weight="bold" font-size="5.40" fill="#444">-20</text>
<line x1="496.10" y1="126.50" x2="674.3" y2="126.50" stroke="#333" stroke-width="1.1"/>
<line x1="496.10" y1="200.1" x2="675.6" y2="200.1" stroke="#444" stroke-width="1.4"/>
<line x1="512.60" y1="200.1" x2="512.60" y2="203.3" stroke="#444" stroke-width="1.1"/>
<rect x="504.80" y="34.68" width="15.60" height="91.82" fill="#000000" stroke="#111" stroke-width="0.9"/>
<line x1="512.60" y1="44.07" x2="512.60" y2="25.30" stroke="#222" stroke-width="0.9"/>
<line x1="508.70" y1="25.30" x2="516.50" y2="25.30" stroke="#222" stroke-width="0.9"/>
<line x1="509.00" y1="44.07" x2="516.20" y2="44.07" stroke="#222" stroke-width="0.8"/>
<line x1="536.80" y1="200.1" x2="536.80" y2="203.3" stroke="#444" stroke-width="1.1"/>
<rect x="529.00" y="64.60" width="15.60" height="61.90" fill="#ff0000" stroke="#111" stroke-width="0.9"/>
<line x1="536.80" y1="67.99" x2="536.80" y2="61.22" stroke="#222" stroke-width="0.9"/>
<line x1="532.90" y1="61.22" x2="540.70" y2="61.22" stroke="#222" stroke-width="0.9"/>
<line x1="533.20" y1="67.99" x2="540.40" y2="67.99" stroke="#222" stroke-width="0.8"/>
<line x1="561.00" y1="200.1" x2="561.00" y2="203.3" stroke="#444" stroke-width="1.1"/>
<rect x="553.20" y="84.29" width="15.60" height="42.21" fill="#ff6600" stroke="#111" stroke-width="0.9"/>
<line x1="561.00" y1="88.38" x2="561.00" y2="80.21" stroke="#222" stroke-width="0.9"/>
<line x1="557.10" y1="80.21" x2="564.90" y2="80.21" stroke="#222" stroke-width="0.9"/>
<line x1="557.40" y1="88.38" x2="564.60" y2="88.38" stroke="#222" stroke-width="0.8"/>
<line x1="585.20" y1="200.1" x2="585.20" y2="203.3" stroke="#444" stroke-width="1.1"/>
<rect x="577.40" y="102.40" width="15.60" height="24.10" fill="#ffff00" stroke="#111" stroke-width="0.9"/>
<line x1="585.20" y1="106.70" x2="585.20" y2="98.09" stroke="#222" stroke-width="0.9"/>
<line x1="581.30" y1="98.09" x2="589.10" y2="98.09" stroke="#222" stroke-width="0.9"/>
<line x1="581.60" y1="106.70" x2="588.80" y2="106.70" stroke="#222" stroke-width="0.8"/>
<line x1="609.40" y1="200.1" x2="609.40" y2="203.3" stroke="#444" stroke-width="1.1"/>
<rect x="601.60" y="116.49" width="15.60" height="10.01" fill="#008000" stroke="#111" stroke-width="0.9"/>
<line x1="609.40" y1="118.70" x2="609.40" y2="114.28" stroke="#222" stroke-width="0.9"/>
<line x1="605.50" y1="114.28" x2="613.30" y2="114.28" stroke="#222" stroke-width="0.9"/>
<line x1="605.80" y1="118.70" x2="613.00" y2="118.70" stroke="#222" stroke-width="0.8"/>
<line x1="633.60" y1="200.1" x2="633.60" y2="203.3" stroke="#444" stroke-width="1.1"/>
<rect x="625.80" y="126.50" width="15.60" height="23.59" fill="#0000ff" stroke="#111" stroke-width="0.9"/>
<line x1="633.60" y1="146.59" x2="633.60" y2="153.58" stroke="#222" stroke-width="0.9"/>
<line x1="629.70" y1="153.58" x2="637.50" y2="153.58" stroke="#222" stroke-width="0.9"/>
<line x1="630.00" y1="146.59" x2="637.20" y2="146.59" stroke="#222" stroke-width="0.8"/>
<line x1="657.90" y1="200.1" x2="657.90" y2="203.3" stroke="#444" stroke-width="1.1"/>
<rect x="650.10" y="126.50" width="15.60" height="38.79" fill="#990000" stroke="#111" stroke-width="0.9"/>
<line x1="657.90" y1="162.56" x2="657.90" y2="168.01" stroke="#222" stroke-width="0.9"/>
<line x1="654.00" y1="168.01" x2="661.80" y2="168.01" stroke="#222" stroke-width="0.9"/>
<line x1="654.30" y1="162.56" x2="661.50" y2="162.56" stroke="#222" stroke-width="0.8"/>
<text transform="translate(514.60,209.8) rotate(-45) scale(0.9,1)" x="0" y="0" text-anchor="end" font-family='"Liberation Sans", sans-serif' font-weight="bold" font-size="7.6" fill="#9c2230" stroke="#9c2230" stroke-width="0.25">GEL</text>
<text transform="translate(538.80,209.8) rotate(-45) scale(0.9,1)" x="0" y="0" text-anchor="end" font-family='"Liberation Sans", sans-serif' font-weight="bold" font-size="7.6" fill="#9c2230" stroke="#9c2230" stroke-width="0.25">GEL/5 % GA</text>
<text transform="translate(563.00,209.8) rotate(-45) scale(0.9,1)" x="0" y="0" text-anchor="end" font-family='"Liberation Sans", sans-serif' font-weight="bold" font-size="7.6" fill="#9c2230" stroke="#9c2230" stroke-width="0.25">GEL/10 % GA</text>
<text transform="translate(587.20,209.8) rotate(-45) scale(0.9,1)" x="0" y="0" text-anchor="end" font-family='"Liberation Sans", sans-serif' font-weight="bold" font-size="7.6" fill="#9c2230" stroke="#9c2230" stroke-width="0.25">GEL/15 % GA</text>
<text transform="translate(611.40,209.8) rotate(-45) scale(0.9,1)" x="0" y="0" text-anchor="end" font-family='"Liberation Sans", sans-serif' font-weight="bold" font-size="7.6" fill="#9c2230" stroke="#9c2230" stroke-width="0.25">GEL/20 % GA</text>
<text transform="translate(635.60,209.8) rotate(-45) scale(0.9,1)" x="0" y="0" text-anchor="end" font-family='"Liberation Sans", sans-serif' font-weight="bold" font-size="7.6" fill="#9c2230" stroke="#9c2230" stroke-width="0.25">GEL/25 % GA</text>
<text transform="translate(659.90,209.8) rotate(-45) scale(0.9,1)" x="0" y="0" text-anchor="end" font-family='"Liberation Sans", sans-serif' font-weight="bold" font-size="7.6" fill="#9c2230" stroke="#9c2230" stroke-width="0.25">GEL/50 % GA</text>
<text transform="translate(479.4,108.2) rotate(-90)" x="0" y="0" text-anchor="middle" font-family='"Liberation Sans", sans-serif' font-weight="bold" font-size="10.8" fill="#9c2230" stroke="#9c2230" stroke-width="0.3" textLength="109" lengthAdjust="spacingAndGlyphs">Zeta Potentail (mV)</text>
</svg>
</body></html>
